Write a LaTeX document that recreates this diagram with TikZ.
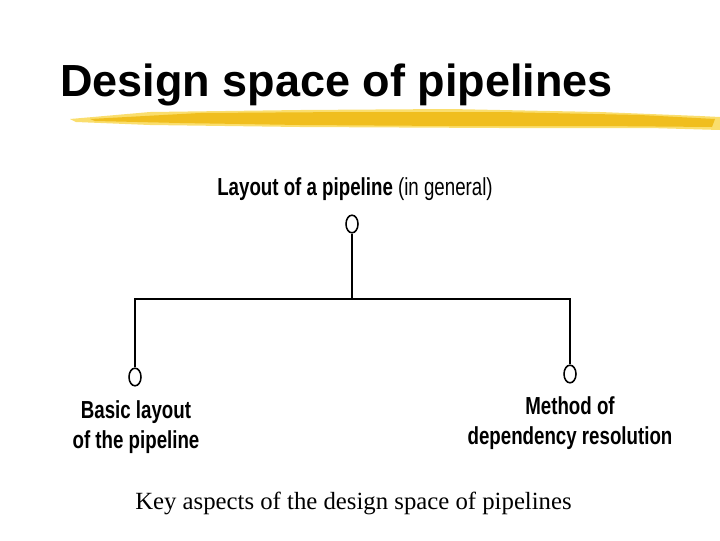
\documentclass[tikz,border=0pt]{standalone}
\usepackage{fontspec}
\setmainfont{Liberation Sans}
\newfontfamily\narrowfont[FakeStretch=0.76]{Liberation Sans}
\newfontfamily\capfont{Liberation Serif}
\usetikzlibrary{shapes.geometric, positioning}
\definecolor{brushdark}{RGB}{240,190,30}
\definecolor{brushlight}{RGB}{250,222,110}
\tikzset{
  leaf/.style={draw, ellipse, line width=1.1pt, minimum width=0.3cm, minimum height=0.44cm, inner sep=0pt, fill=white},
  branch/.style={line width=1.2pt},
  aspect/.style={font=\narrowfont\fontsize{17.5}{21.5}\selectfont\bfseries, align=center, inner sep=0pt, anchor=north},
}

\begin{document}
\begin{tikzpicture}[x=0.025cm, y=-0.025cm]
    \useasboundingbox (0,0) rectangle (720,540);

    % title and brush stroke
    \node[anchor=base west, inner sep=0pt, font=\fontsize{32}{38}\selectfont\bfseries] (title) at (60,96) {Design space of pipelines};
    \fill[brushlight] (70,119) -- (150,112) -- (300,110) -- (450,109) -- (600,112) -- (700,116) -- (720,117)
      -- (720,130) -- (650,128) -- (500,128) -- (300,127) -- (150,125) -- (76,122) -- cycle;
    \fill[brushdark] (90,119) -- (200,113) -- (350,112) -- (500,112) -- (640,115) -- (715,119)
      -- (712,127) -- (600,126) -- (450,126) -- (300,125) -- (180,123) -- (95,121) -- cycle;

    % tree
    \coordinate (hub) at (352,299);
    \node[leaf] (root) at (352,224) {};
    \node[leaf] (basic) at (135,377) {};
    \node[leaf] (method) at (570,374) {};
    \draw[branch] (root) -- (hub);
    \draw[branch, line width=1.8pt] (basic) |- (hub) -| (method);
    \draw[branch] (basic) -- (basic |- hub);

    % labels
    \node[anchor=base, inner sep=0pt, font=\narrowfont\fontsize{17.5}{21.5}\selectfont] (rootlbl) at (355,195)
      {\textbf{Layout of a pipeline} (in general)};
    \node[aspect] (basiclbl) at (136,400) {Basic layout\\of the pipeline};
    \node[aspect] (methodlbl) at (570,396) {Method of\\dependency resolution};

    \node[anchor=base west, inner sep=0pt, font=\capfont\fontsize{17.6}{21}\selectfont] (caption) at (135,509)
      {Key aspects of the design space of pipelines};
\end{tikzpicture}
\end{document}
